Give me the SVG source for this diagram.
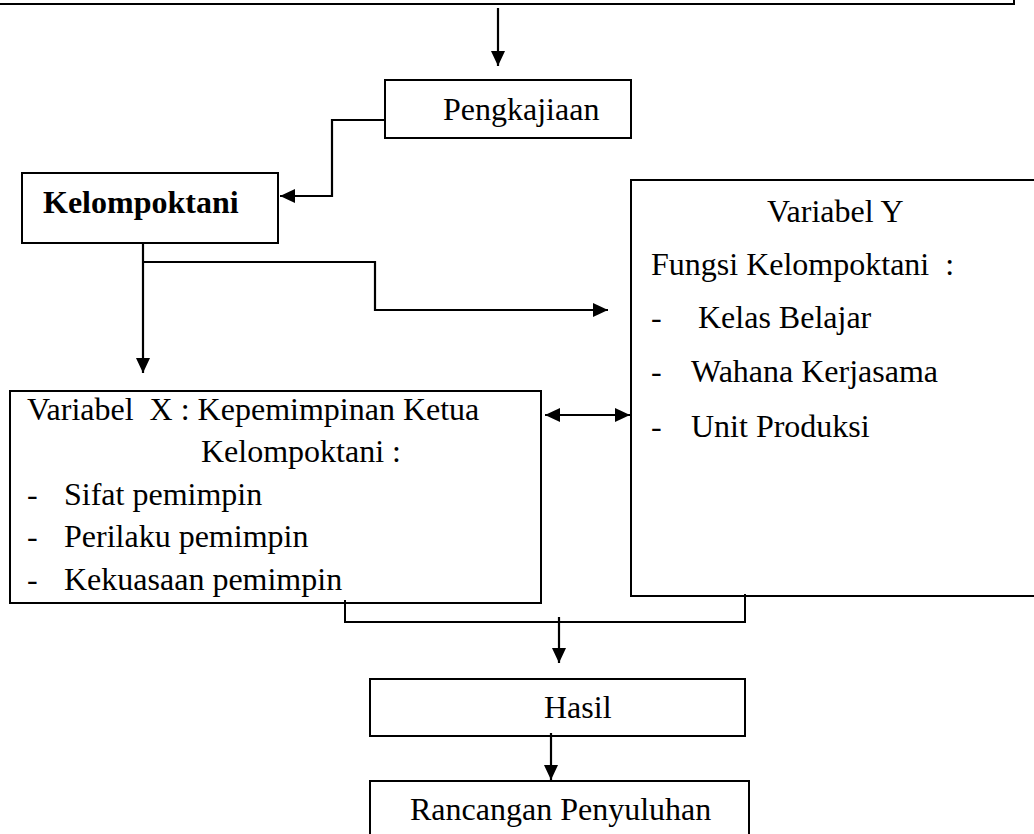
<svg xmlns="http://www.w3.org/2000/svg" width="1034" height="834" viewBox="0 0 1034 834">
<style>
.box{fill:#fff;stroke:#000;stroke-width:2}
.t{font-family:"Liberation Serif","Times New Roman",serif;font-size:32px;fill:#000;white-space:pre}
.b{font-weight:bold}
.c{fill:none;stroke:#000;stroke-width:2}
.ca{fill:none;stroke:#000;stroke-width:2.2;marker-end:url(#ah)}
</style>
<defs>
<marker id="ah" markerUnits="userSpaceOnUse" markerWidth="16" markerHeight="14" refX="15" refY="7" orient="auto">
<path d="M0,0 L15,7 L0,14 Z" fill="#000"/>
</marker>
<marker id="as" markerUnits="userSpaceOnUse" markerWidth="16" markerHeight="14" refX="15" refY="7" orient="auto-start-reverse">
<path d="M0,0 L15,7 L0,14 Z" fill="#000"/>
</marker>
</defs>
<rect width="1034" height="834" fill="#fff"/>
<g id="top">
<rect class="box" x="-10" y="-20" width="1024" height="24" stroke-width="2.5"/>
</g>
<g id="pengkajiaan">
<rect class="box" x="385" y="80" width="246" height="58"/>
<text class="t" x="443" y="120">Pengkajiaan</text>
</g>
<g id="kelompoktani">
<rect class="box" x="22" y="173" width="256" height="70"/>
<text class="t b" x="43" y="213">Kelompoktani</text>
</g>
<g id="variabelY">
<rect class="box" x="631" y="180" width="420" height="416"/>
<text class="t" x="767" y="222">Variabel Y</text>
<text class="t" x="651" y="275">Fungsi Kelompoktani  :</text>
<text class="t" x="651" y="328">-</text>
<text class="t" x="698" y="328">Kelas Belajar</text>
<text class="t" x="651" y="382">-</text>
<text class="t" x="691" y="382">Wahana Kerjasama</text>
<text class="t" x="651" y="437">-</text>
<text class="t" x="691" y="437">Unit Produksi</text>
</g>
<g id="variabelX">
<rect class="box" x="10" y="391" width="531" height="212"/>
<text class="t" x="27" y="420">Variabel  X : Kepemimpinan Ketua</text>
<text class="t" x="201" y="462">Kelompoktani :</text>
<text class="t" x="27" y="505">-</text>
<text class="t" x="64" y="505">Sifat pemimpin</text>
<text class="t" x="27" y="547">-</text>
<text class="t" x="64" y="547">Perilaku pemimpin</text>
<text class="t" x="27" y="590">-</text>
<text class="t" x="64" y="590">Kekuasaan pemimpin</text>
</g>
<g id="hasil">
<rect class="box" x="370" y="679" width="375" height="57"/>
<text class="t" x="544" y="718">Hasil</text>
</g>
<g id="rancangan">
<rect class="box" x="370" y="781" width="379" height="70"/>
<text class="t" x="410" y="820">Rancangan Penyuluhan</text>
</g>
<g id="connectors">
<path class="ca" d="M498,8 V66"/>
<path class="ca" d="M385,120 H332 V196 H280"/>
<path class="ca" d="M143,243 V373"/>
<path class="ca" d="M143,262 H375 V310 H608"/>
<path class="ca" d="M545,415 H630" style="marker-start:url(#as)"/>
<path class="c" d="M345,600 V622 H745 V594"/>
<path class="ca" d="M559,617 V663"/>
<path class="ca" d="M551,733 V780"/>
</g>
</svg>
